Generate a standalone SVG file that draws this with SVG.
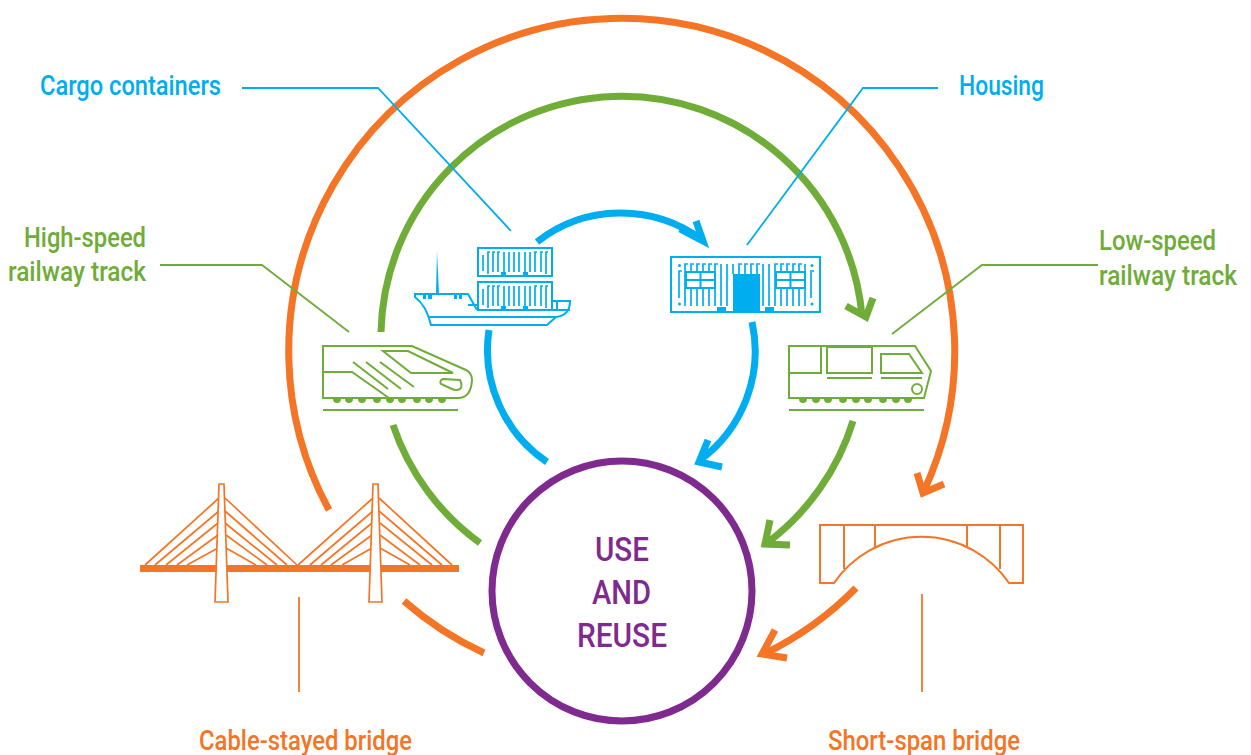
<svg xmlns="http://www.w3.org/2000/svg" width="1251" height="755" viewBox="0 0 1251 755">
<style>
text{font-family:Roboto,"Liberation Sans",sans-serif;font-weight:500;font-size:27px}
.b{stroke:#00aeef}.g{stroke:#6fac38}.o{stroke:#f47526}.p{stroke:#7f2a8e}
.fb{fill:#00aeef}.fg{fill:#6fac38}.fo{fill:#f47526}.fp{fill:#7f2a8e}
.arc{fill:none;stroke-width:7;stroke-linecap:butt}
.head{fill:none;stroke-width:7;stroke-linejoin:miter;stroke-miterlimit:8}
.lead{fill:none;stroke-width:1.8}
.ln{fill:none;stroke-width:2}
.thin{fill:none;stroke-width:1.7}
.big{font-size:33px}
</style>
<rect width="1251" height="755" fill="#fff"/>
<g id="connectors">
<path class="arc o" d="M329 510A333 333 0 1 1 924 491"/>
<path class="head o" d="M917 473L923 493L944 484"/>
<path class="arc g" d="M381 332A241 241 0 0 1 862 316"/>
<path class="head g" d="M846 306L866 317L873 298"/>
<path class="arc b" d="M537 242A136 136 0 0 1 702 240"/>
<path class="head b" d="M680 229L703 241L696 221"/>
<path class="arc b" d="M489 330A135 135 0 0 0 547 462"/>
<path class="arc b" d="M752 322A135 135 0 0 1 700 460"/>
<path class="head b" d="M708 440L699 462L722 467"/>
<path class="arc g" d="M393 425A241 241 0 0 0 480 543"/>
<path class="arc g" d="M853 421A241 241 0 0 1 767 543"/>
<path class="head g" d="M770 520L765 544L790 545"/>
<path class="arc o" d="M404 601A333 333 0 0 0 484 653"/>
<path class="arc o" d="M856 588A335 335 0 0 1 764 654"/>
<path class="head o" d="M775 630L762 654L787 658"/>
<path class="lead b" d="M242 88H378L511 231"/>
<path class="lead b" d="M938 88H863L747 245"/>
<path class="lead g" d="M160 265H262L349 332"/>
<path class="lead g" d="M1098 265H982L892 334"/>
<path class="lead o" d="M299 597V692"/>
<path class="lead o" d="M922 594V692"/>
</g>
<g id="cargo-containers">
<text class="fb" x="40" y="95" textLength="181" lengthAdjust="spacingAndGlyphs">Cargo containers</text>
<rect class="ln b" x="478" y="248" width="74" height="28"/>
<rect class="ln b" x="478" y="282" width="74" height="28"/>
<path class="thin b" d="M483 255V271M488 274V252H490M493 272V252H495M498 272V252H500M504 272V252M509 272V252M514 272V252M519 272V252M525 272V252M530 272V252M535 272V252H537M541 272V252H543M546 274V252H548"/>
<path class="thin b" d="M483 289V305M488 308V286H490M493 306V286H495M498 306V286H500M504 306V286M509 306V286M514 306V286M519 306V286M525 306V286M530 306V286M535 306V286H537M541 306V286H543M546 308V286H548"/>
<rect class="fb" x="501" y="272" width="5" height="4"/><rect class="fb" x="523" y="272" width="5" height="4"/>
<rect class="fb" x="501" y="306" width="5" height="4"/><rect class="fb" x="523" y="306" width="5" height="4"/>
<path class="fb" d="M436 294L437 251L439 294Z"/>
<path class="ln b" d="M477 310L468 294H415V297C423 303 428 312 431 325H547L556 317C565 316 570 311 570 301H552M429 317H556M477 310H552M468 305H477M557 301V310M570 310H552"/>
<path class="fb" d="M423 295h3v4h-3zM428 295h4v4h-4zM454 295h3v4h-3zM459 295h3v4h-3z"/>
</g>
<g id="housing">
<text class="fb" x="959" y="95" textLength="85" lengthAdjust="spacingAndGlyphs">Housing</text>
<rect class="ln b" x="671" y="257" width="149" height="55"/>
<path class="thin b" d="M679 298V271H682M685 306V264H688M691 272V264H694M697 272V264H700M703 272V264H706M709 272V264H712M715 306V264H718M721 306V264M727 306V264M733 274V264M739 274V264H742M745 274V264H748M751 274V264H754M757 274V264H760M763 306V264M769 306V264M775 306V264H778M781 272V264H784M787 272V264H790M793 272V264H796M799 272V264H802M805 306V264M811 298V271H814M691 288V306M697 288V306M703 288V306M709 288V306M781 288V306M787 288V306M793 288V306M799 288V306"/>
<rect class="fb" x="733" y="274" width="27" height="39"/>
<rect class="fb" x="717" y="307" width="9" height="4"/><rect class="fb" x="765" y="307" width="9" height="4"/>
<g class="fb"><circle cx="679.500" cy="265.500" r="1.500"/><circle cx="679.500" cy="304" r="1.500"/><circle cx="812" cy="265.500" r="1.500"/><circle cx="812" cy="304" r="1.500"/></g>
<path class="ln b" d="M686 272H715V288H686ZM700.500 272V288M686 280H715M776 272H805V288H776ZM790.500 272V288M776 280H805"/>
</g>
<g id="high-speed-railway-track">
<text class="fg" x="24" y="247" textLength="122" lengthAdjust="spacingAndGlyphs">High-speed</text>
<text class="fg" x="8" y="281" textLength="138" lengthAdjust="spacingAndGlyphs">railway track</text>
<path class="ln g" d="M323 372H352L389 398M323 346H412L466 370Q472 373 472 380Q471 398 458 398H323V346Z"/>
<path class="ln g" d="M383 351H408L453 373H411Z"/>
<path class="ln g" d="M353 362L388 389M366 362L401 389M380 362L414 387"/>
<path class="ln g" d="M443 379L460 380Q463 386 460 389Q456 391 452 389L441 384Q439 381 443 379Z"/>
<g class="fg"><path d="M333 399a4 4 0 0 0 8 0zM345 399a4 4 0 0 0 8 0zM358 399a4 4 0 0 0 8 0zM373 399a4 4 0 0 0 8 0zM386 399a4 4 0 0 0 8 0zM398 399a4 4 0 0 0 8 0zM413 399a4 4 0 0 0 8 0zM425 399a4 4 0 0 0 8 0zM438 399a4 4 0 0 0 8 0z"/></g>
<path class="ln g" d="M323 410H458"/>
</g>
<g id="low-speed-railway-track">
<text class="fg" x="1099" y="250" textLength="117" lengthAdjust="spacingAndGlyphs">Low-speed</text>
<text class="fg" x="1099" y="285" textLength="138" lengthAdjust="spacingAndGlyphs">railway track</text>
<path class="ln g" d="M789 346H915L931 371L924 398H789ZM789 373H821V346M827 347H872V373H827ZM881 354H909L922 373H881ZM827 378H872M881 378H922"/>
<circle class="ln g" cx="917" cy="389" r="5"/>
<g class="fg"><path d="M799 399a4 4 0 0 0 8 0zM812 399a4 4 0 0 0 8 0zM824 399a4 4 0 0 0 8 0zM839 399a4 4 0 0 0 8 0zM852 399a4 4 0 0 0 8 0zM864 399a4 4 0 0 0 8 0zM879 399a4 4 0 0 0 8 0zM892 399a4 4 0 0 0 8 0zM904 399a4 4 0 0 0 8 0z"/></g>
<path class="ln g" d="M789 410H924"/>
</g>
<g id="cable-stayed-bridge">
<text class="fo" x="199" y="750" textLength="213" lengthAdjust="spacingAndGlyphs">Cable-stayed bridge</text>
<path class="thin o" d="M219 498L145 565M219 511L155 565M218 523L166 565M218 535L177 565M218 548L187 565M225 498L297 565M225 511L287 565M225 523L277 565M226 535L267 565M226 548L256 565M373 498L298 565M373 511L310 565M372 523L321 565M372 535L331 565M372 548L342 565M379 498L452 565M379 511L442 565M380 523L432 565M380 535L420 565M380 548L410 565"/>
<rect class="fo" x="140" y="565" width="319" height="7"/>
<path class="thin o" fill="#fff" style="fill:#fff" d="M219 484H224L228 602H215Z"/>
<path class="thin o" style="fill:#fff" d="M373 484H378L382 602H369Z"/>
</g>
<g id="short-span-bridge">
<text class="fo" x="828" y="750" textLength="192" lengthAdjust="spacingAndGlyphs">Short-span bridge</text>
<path class="ln o" d="M820 525H1023V583H1009A106 106 0 0 0 834 583H820ZM844 525V569M875 525V547M967 525V547M1000 525V569"/>
</g>
<g id="use-and-reuse">
<circle cx="622" cy="591" r="130" fill="#fff" class="p" stroke-width="7"/>
<text class="fp big" x="595" y="561" textLength="54" lengthAdjust="spacingAndGlyphs">USE</text>
<text class="fp big" x="592" y="604" textLength="59" lengthAdjust="spacingAndGlyphs">AND</text>
<text class="fp big" x="577" y="647" textLength="90" lengthAdjust="spacingAndGlyphs">REUSE</text>
</g>
</svg>
